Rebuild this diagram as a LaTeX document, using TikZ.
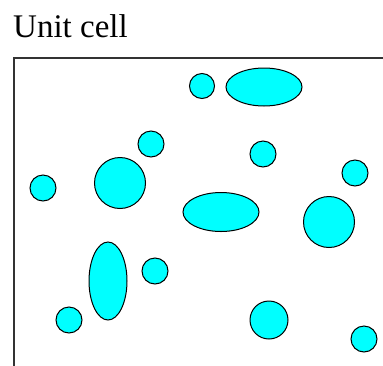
\documentclass[tikz,border=0pt]{standalone}
\usepackage{fontspec}
\setmainfont{Liberation Serif}
\definecolor{aqua}{RGB}{0,255,255}
\begin{document}
\begin{tikzpicture}[x=1pt,y=-1pt,
  blob/.style={draw=black,fill=aqua,line width=1pt},
  frame/.style={draw=black!80,line width=1.8pt}]
\useasboundingbox (0,0) rectangle (383,365);
\node[anchor=base west,inner sep=0pt,font=\fontsize{33}{36}\selectfont] (title) at (13,37) {Unit cell};
\coordinate (tl) at (14,58);
\coordinate (tr) at (384,58);
\coordinate (bl) at (14,366);
\draw[frame] (tr) -- (tl) -- (bl);
% circles and ellipses
\draw[blob] (202,86) circle (12.5);
\draw[blob] (264,87) ellipse (38 and 19);
\draw[blob] (151,144) circle (13);
\draw[blob] (263,154) circle (13);
\draw[blob] (355,173) circle (13);
\draw[blob] (43,188) circle (13);
\draw[blob] (120,183) circle (25.5);
\draw[blob] (221,212) ellipse (38 and 19.5);
\draw[blob] (329,222) circle (25.5);
\draw[blob] (108,281) ellipse (19 and 39);
\draw[blob] (155,271) circle (13);
\draw[blob] (69,320) circle (13);
\draw[blob] (269,320) circle (19);
\draw[blob] (364,339) circle (13);
\end{tikzpicture}
\end{document}
